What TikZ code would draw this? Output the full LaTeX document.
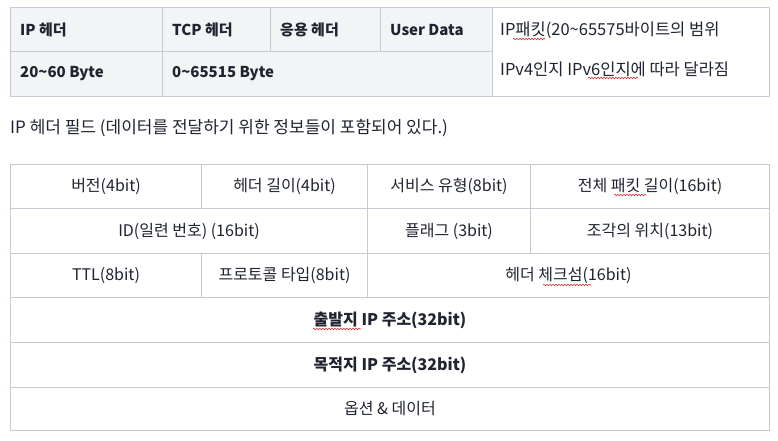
\documentclass[tikz,border=0pt]{standalone}
\usepackage{fontspec}
\setmainfont{Noto Sans CJK KR}
\usetikzlibrary{decorations.pathmorphing}
\definecolor{bordc}{HTML}{C5CAD4}
\definecolor{grayc}{HTML}{F3F4F6}
\definecolor{txtc}{HTML}{1F2430}
\definecolor{squigc}{HTML}{E0302A}
\tikzset{
  cellg/.style={draw=bordc, line width=1pt, fill=grayc, inner sep=0pt, anchor=north west, text=txtc, font=\fontsize{16}{19}\selectfont},
  cellw/.style={draw=bordc, line width=1pt, fill=white, inner sep=0pt, anchor=north west, text=txtc, font=\fontsize{16}{19}\selectfont},
  lbl/.style={inner sep=0pt, anchor=west, text=txtc, font=\fontsize{16.5}{19}\selectfont},
  blbl/.style={lbl, font=\fontsize{15}{18}\selectfont\bfseries},
  bcell/.style={cellw, font=\fontsize{16}{19}\selectfont\bfseries},
  squig/.style={draw=squigc, line width=0.6pt, decorate, decoration={snake, amplitude=0.8pt, segment length=3pt}}
}
\begin{document}
\begin{tikzpicture}[x=1pt, y=-1pt]
\useasboundingbox[fill=white] (0,0) rectangle (778,441);
% ---- top table
\node[cellg, minimum width=152pt, minimum height=44pt] (a1) at (10,7) {};
\node[cellg, minimum width=108pt, minimum height=44pt] (b1) at (162,7) {};
\node[cellg, minimum width=110pt, minimum height=44pt] (c1) at (270,7) {};
\node[cellg, minimum width=112pt, minimum height=44pt] (d1) at (380,7) {};
\node[cellg, minimum width=152pt, minimum height=45pt] (a2) at (10,51) {};
\node[cellg, minimum width=330pt, minimum height=45pt] (b2) at (162,51) {};
\node[cellw, minimum width=277pt, minimum height=89pt] (e1) at (492,7) {};
\node[blbl] (ta1) at (20,30) {IP 헤더};
\node[blbl] (tb1) at (172,30) {TCP 헤더};
\node[blbl] (tc1) at (280,30) {응용 헤더};
\node[blbl] (td1) at (390,30) {User Data};
\node[blbl] (ta2) at (20,74) {20\textasciitilde60 Byte};
\node[blbl] (tb2) at (172,74) {0\textasciitilde65515 Byte};
\node[lbl] (te1) at (500,30) {IP패킷(20\textasciitilde65575바이트의 범위};
\node[lbl] (te2) at (500,69) {IPv4인지 IPv6인지에 따라 달라짐};
% ---- caption
\node[lbl, font=\fontsize{17}{20}\selectfont] (cap) at (10,128) {IP 헤더 필드 (데이터를 전달하기 위한 정보들이 포함되어 있다.)};
% ---- lower table
\node[cellw, minimum width=191pt, minimum height=44pt] (r1a) at (10,164) {버전(4bit)};
\node[cellw, minimum width=166pt, minimum height=44pt] (r1b) at (201,164) {헤더 길이(4bit)};
\node[cellw, minimum width=163pt, minimum height=44pt] (r1c) at (367,164) {서비스 유형(8bit)};
\node[cellw, minimum width=239pt, minimum height=44pt] (r1d) at (530,164) {전체 패킷 길이(16bit)};
\node[cellw, minimum width=357pt, minimum height=45pt] (r2a) at (10,208) {ID(일련 번호) (16bit)};
\node[cellw, minimum width=163pt, minimum height=45pt] (r2b) at (367,208) {플래그 (3bit)};
\node[cellw, minimum width=239pt, minimum height=45pt] (r2c) at (530,208) {조각의 위치(13bit)};
\node[cellw, minimum width=191pt, minimum height=44pt] (r3a) at (10,253) {TTL(8bit)};
\node[cellw, minimum width=166pt, minimum height=44pt] (r3b) at (201,253) {프로토콜 타입(8bit)};
\node[cellw, minimum width=402pt, minimum height=44pt] (r3c) at (367,253) {헤더 체크섬(16bit)};
\node[bcell, minimum width=759pt, minimum height=45pt] (r4) at (10,297) {출발지 IP 주소(32bit)};
\node[bcell, minimum width=759pt, minimum height=45pt] (r5) at (10,342) {목적지 IP 주소(32bit)};
\node[cellw, minimum width=759pt, minimum height=43pt] (r6) at (10,387) {옵션 \& 데이터};
% ---- spell-check squiggles
\coordinate (s1a) at (513,39); \coordinate (s1b) at (545,39);
\coordinate (s2a) at (588,78); \coordinate (s2b) at (638,78);
\coordinate (s3a) at (614,195); \coordinate (s3b) at (646,195);
\coordinate (s4a) at (543,285); \coordinate (s4b) at (591,285);
\coordinate (s5a) at (313,329); \coordinate (s5b) at (361,329);
\draw[squig] (s1a) -- (s1b);
\draw[squig] (s2a) -- (s2b);
\draw[squig] (s3a) -- (s3b);
\draw[squig] (s4a) -- (s4b);
\draw[squig] (s5a) -- (s5b);
\end{tikzpicture}
\end{document}
